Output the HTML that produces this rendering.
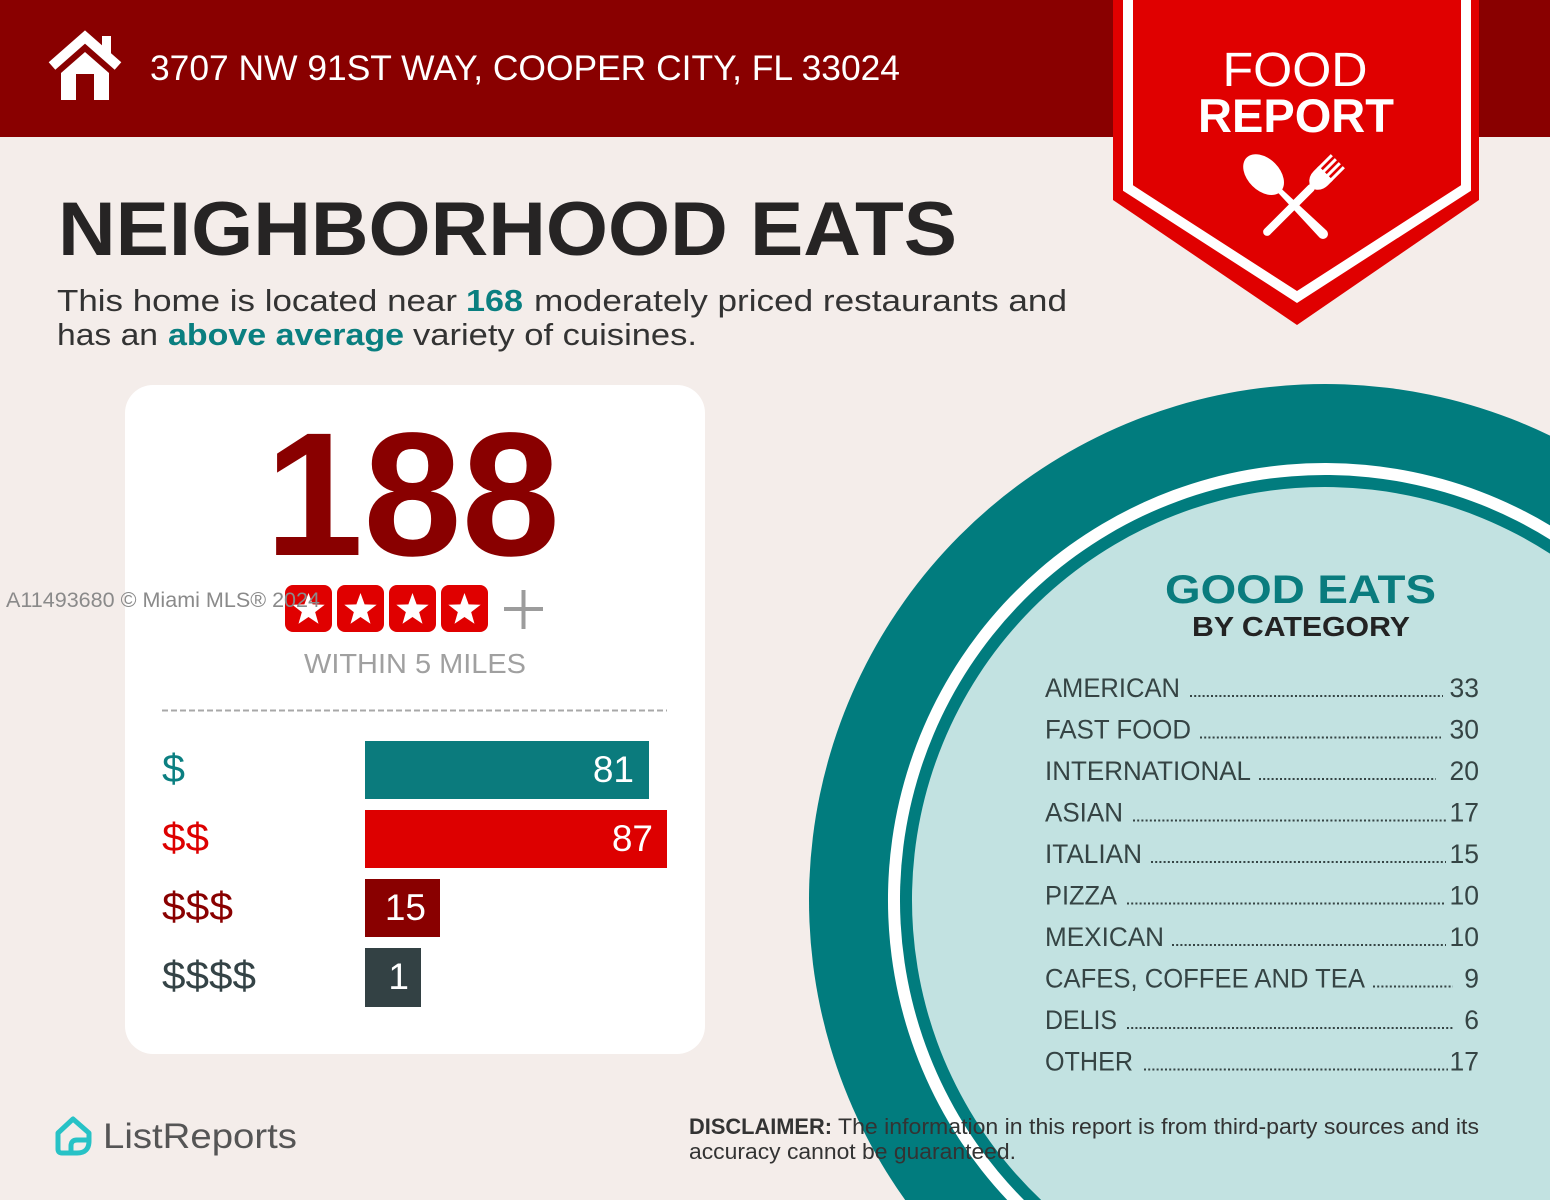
<!DOCTYPE html>
<html>
<head>
<meta charset="utf-8">
<style>
  html,body{margin:0;padding:0;background:#f4edea;width:1550px;height:1200px;overflow:hidden;}
  svg{display:block;}
  text{font-family:"Liberation Sans", Arial, sans-serif;}
</style>
</head>
<body>
<svg width="1550" height="1200" viewBox="0 0 1550 1200" xmlns="http://www.w3.org/2000/svg">
  <!-- background -->
  <rect x="0" y="0" width="1550" height="1200" fill="#f4edea"/>

  <!-- big teal circle (clipped to frame) -->
  <path d="M905.17,1200 A516,516 0 0 1 1550,435.64 L1550,1200 Z" fill="#017c7e"/>
  <path d="M1007.24,1200 A437,437 0 0 1 1550,525.37 L1550,1200 Z" fill="#ffffff"/>
  <path d="M1023.96,1200 A425,425 0 0 1 1550,539.44 L1550,1200 Z" fill="#017c7e"/>
  <path d="M1041.15,1200 A413,413 0 0 1 1550,553.67 L1550,1200 Z" fill="#c2e2e1"/>

  <!-- header -->
  <rect x="0" y="0" width="1550" height="137" fill="#890000"/>

  <!-- house icon -->
  <polyline points="52,66 85,37 118,66" fill="none" stroke="#ffffff" stroke-width="10" stroke-linejoin="miter" stroke-linecap="butt"/>
  <rect x="102" y="36" width="9" height="20" fill="#ffffff"/>
  <path d="M61,100 L61,73 L85,52 L109,73 L109,100 Z" fill="#ffffff"/>
  <rect x="76" y="74" width="18" height="26" fill="#890000"/>

  <!-- address -->
  <text x="150" y="80" font-size="35" fill="#ffffff" textLength="750" lengthAdjust="spacingAndGlyphs">3707 NW 91ST WAY, COOPER CITY, FL 33024</text>

  <!-- badge -->
  <polygon points="1113,0 1479,0 1479,200 1297,325 1113,200" fill="#e00000"/>
  <polyline points="1128,0 1128,188 1297,297 1466,188 1466,0" fill="none" stroke="#ffffff" stroke-width="10" stroke-linejoin="miter"/>
  <text x="1295" y="86" font-size="48" fill="#ffffff" text-anchor="middle" textLength="145" lengthAdjust="spacingAndGlyphs">FOOD</text>
  <text x="1296" y="132" font-size="47" font-weight="bold" fill="#ffffff" text-anchor="middle" textLength="196" lengthAdjust="spacingAndGlyphs">REPORT</text>

  <!-- spoon -->
  <g transform="translate(1294,205) rotate(-45)" fill="#ffffff">
    <ellipse cx="0" cy="-43" rx="16" ry="24"/>
    <path d="M-2.5,-22 L2.5,-22 L5,41 A5,5 0 0 1 -5,41 Z"/>
  </g>
  <!-- fork -->
  <g transform="translate(1294,205) rotate(45)" fill="#ffffff">
    <rect x="-4" y="-28" width="8" height="70" rx="4"/>
    <path d="M-10,-45 L10,-45 L10,-38 Q10,-30 4,-26 L-4,-26 Q-10,-30 -10,-38 Z"/>
    <rect x="-10" y="-62" width="3" height="20"/>
    <rect x="-4.3" y="-62" width="3" height="20"/>
    <rect x="1.3" y="-62" width="3" height="20"/>
    <rect x="7" y="-62" width="3" height="20"/>
  </g>

  <!-- title -->
  <text x="58" y="255" font-size="76" font-weight="bold" fill="#262424" textLength="899" lengthAdjust="spacingAndGlyphs">NEIGHBORHOOD EATS</text>

  <!-- paragraph -->
  <g font-size="31" fill="#333333">
    <text x="57" y="311" textLength="400" lengthAdjust="spacingAndGlyphs">This home is located near</text>
    <text x="466" y="311" font-weight="bold" fill="#0a7f80" textLength="57" lengthAdjust="spacingAndGlyphs">168</text>
    <text x="534" y="311" textLength="533" lengthAdjust="spacingAndGlyphs">moderately priced restaurants and</text>
    <text x="57" y="345" textLength="101" lengthAdjust="spacingAndGlyphs">has an</text>
    <text x="168" y="345" font-weight="bold" fill="#0a7f80" textLength="236" lengthAdjust="spacingAndGlyphs">above average</text>
    <text x="413" y="345" textLength="284" lengthAdjust="spacingAndGlyphs">variety of cuisines.</text>
  </g>

  <!-- card -->
  <rect x="125" y="385" width="580" height="669" rx="28" ry="28" fill="#ffffff"/>

  <!-- 188 -->
  <text x="265" y="555" font-size="176" font-weight="bold" fill="#890000" textLength="295" lengthAdjust="spacingAndGlyphs">188</text>

  <!-- stars -->
  <g>
    <rect x="285" y="585" width="47" height="47" rx="8" fill="#e00000"/>
    <rect x="337" y="585" width="47" height="47" rx="8" fill="#e00000"/>
    <rect x="389" y="585" width="47" height="47" rx="8" fill="#e00000"/>
    <rect x="441" y="585" width="47" height="47" rx="8" fill="#e00000"/>
    <g fill="#ffffff">
      <path transform="translate(308.5,610)" d="M0,-17 L4.11,-5.66 L16.17,-5.25 L6.66,2.16 L9.99,13.75 L0,7 L-9.99,13.75 L-6.66,2.16 L-16.17,-5.25 L-4.11,-5.66 Z"/>
      <path transform="translate(360.5,610)" d="M0,-17 L4.11,-5.66 L16.17,-5.25 L6.66,2.16 L9.99,13.75 L0,7 L-9.99,13.75 L-6.66,2.16 L-16.17,-5.25 L-4.11,-5.66 Z"/>
      <path transform="translate(412.5,610)" d="M0,-17 L4.11,-5.66 L16.17,-5.25 L6.66,2.16 L9.99,13.75 L0,7 L-9.99,13.75 L-6.66,2.16 L-16.17,-5.25 L-4.11,-5.66 Z"/>
      <path transform="translate(464.5,610)" d="M0,-17 L4.11,-5.66 L16.17,-5.25 L6.66,2.16 L9.99,13.75 L0,7 L-9.99,13.75 L-6.66,2.16 L-16.17,-5.25 L-4.11,-5.66 Z"/>
    </g>
    <line x1="504" y1="609" x2="543" y2="609" stroke="#9c9c9c" stroke-width="4"/>
    <line x1="523.5" y1="590" x2="523.5" y2="629" stroke="#9c9c9c" stroke-width="4"/>
  </g>

  <!-- watermark -->
  <text x="6" y="607" font-size="21" fill="#8a8a8a" textLength="314" lengthAdjust="spacingAndGlyphs">A11493680 © Miami MLS® 2024</text>

  <!-- within 5 miles -->
  <text x="304" y="673" font-size="28" fill="#a0a0a0" textLength="222" lengthAdjust="spacingAndGlyphs">WITHIN 5 MILES</text>

  <!-- dashed line -->
  <line x1="162" y1="710.5" x2="667" y2="710.5" stroke="#a8a8a8" stroke-width="2" stroke-dasharray="6,3"/>

  <!-- bars -->
  <rect x="365" y="741" width="284" height="58" fill="#0b7b7d"/>
  <rect x="365" y="810" width="302" height="58" fill="#dd0000"/>
  <rect x="365" y="879" width="75" height="58" fill="#890000"/>
  <rect x="365" y="948" width="56" height="59" fill="#334144"/>
  <g font-size="37" fill="#ffffff" text-anchor="end">
    <text x="634" y="782">81</text>
    <text x="653" y="851">87</text>
    <text x="426" y="920">15</text>
    <text x="409" y="989">1</text>
  </g>
  <g font-size="40">
    <text x="162" y="782" fill="#0b7f81" textLength="23" lengthAdjust="spacingAndGlyphs">$</text>
    <text x="162" y="851" fill="#dd0000" textLength="47" lengthAdjust="spacingAndGlyphs">$$</text>
    <text x="162" y="920" fill="#890000" textLength="71" lengthAdjust="spacingAndGlyphs">$$$</text>
    <text x="162" y="989" fill="#344346" textLength="94" lengthAdjust="spacingAndGlyphs">$$$$</text>
  </g>

  <!-- good eats -->
  <text x="1165" y="603" font-size="40" font-weight="bold" fill="#0a7c7e" textLength="271" lengthAdjust="spacingAndGlyphs">GOOD EATS</text>
  <text x="1192" y="636" font-size="28" font-weight="bold" fill="#232323" textLength="218" lengthAdjust="spacingAndGlyphs">BY CATEGORY</text>

  <!-- list -->
  <g font-size="26.5" fill="#354444">
    <text x="1045" y="697" textLength="135" lengthAdjust="spacingAndGlyphs">AMERICAN</text>
    <text x="1479" y="697" text-anchor="end">33</text>
    <text x="1045" y="738.5" textLength="146" lengthAdjust="spacingAndGlyphs">FAST FOOD</text>
    <text x="1479" y="738.5" text-anchor="end">30</text>
    <text x="1045" y="780" textLength="206" lengthAdjust="spacingAndGlyphs">INTERNATIONAL</text>
    <text x="1479" y="780" text-anchor="end">20</text>
    <text x="1045" y="821.5" textLength="78" lengthAdjust="spacingAndGlyphs">ASIAN</text>
    <text x="1479" y="821.5" text-anchor="end">17</text>
    <text x="1045" y="863" textLength="97" lengthAdjust="spacingAndGlyphs">ITALIAN</text>
    <text x="1479" y="863" text-anchor="end">15</text>
    <text x="1045" y="904.5" textLength="72" lengthAdjust="spacingAndGlyphs">PIZZA</text>
    <text x="1479" y="904.5" text-anchor="end">10</text>
    <text x="1045" y="946" textLength="119" lengthAdjust="spacingAndGlyphs">MEXICAN</text>
    <text x="1479" y="946" text-anchor="end">10</text>
    <text x="1045" y="987.5" textLength="320" lengthAdjust="spacingAndGlyphs">CAFES, COFFEE AND TEA</text>
    <text x="1479" y="987.5" text-anchor="end">9</text>
    <text x="1045" y="1029" textLength="72" lengthAdjust="spacingAndGlyphs">DELIS</text>
    <text x="1479" y="1029" text-anchor="end">6</text>
    <text x="1045" y="1070.5" textLength="88" lengthAdjust="spacingAndGlyphs">OTHER</text>
    <text x="1479" y="1070.5" text-anchor="end">17</text>
  </g>
  <g stroke="#354444" stroke-width="2" stroke-dasharray="2,2.2">
    <line x1="1190" y1="696" x2="1443" y2="696"/>
    <line x1="1200" y1="737.5" x2="1441" y2="737.5"/>
    <line x1="1259" y1="779" x2="1436" y2="779"/>
    <line x1="1133" y1="820.5" x2="1448" y2="820.5"/>
    <line x1="1151" y1="862" x2="1446" y2="862"/>
    <line x1="1127" y1="903.5" x2="1446" y2="903.5"/>
    <line x1="1172" y1="945" x2="1446" y2="945"/>
    <line x1="1373" y1="986.5" x2="1453" y2="986.5"/>
    <line x1="1127" y1="1028" x2="1453" y2="1028"/>
    <line x1="1144" y1="1069.5" x2="1448" y2="1069.5"/>
  </g>

  <!-- ListReports logo -->
  <g fill="none" stroke="#27c2c6" stroke-width="5" stroke-linejoin="round" stroke-linecap="round">
    <path d="M58,1133 L73,1119 L89,1133 L89,1141 Q89,1153 77,1153 L62,1153 Q58,1153 58,1149 Z"/>
    <path d="M71,1153 L71,1146 Q71,1140 77,1140 L89,1140"/>
  </g>
  <text x="103" y="1148" font-size="35" fill="#555555" textLength="194" lengthAdjust="spacingAndGlyphs">ListReports</text>

  <!-- disclaimer -->
  <g font-size="22" fill="#333333">
    <text x="689" y="1134" font-weight="bold" textLength="143" lengthAdjust="spacingAndGlyphs">DISCLAIMER:</text>
    <text x="838" y="1134" textLength="641" lengthAdjust="spacingAndGlyphs">The information in this report is from third-party sources and its</text>
    <text x="689" y="1159" textLength="327" lengthAdjust="spacingAndGlyphs">accuracy cannot be guaranteed.</text>
  </g>
</svg>
</body>
</html>
